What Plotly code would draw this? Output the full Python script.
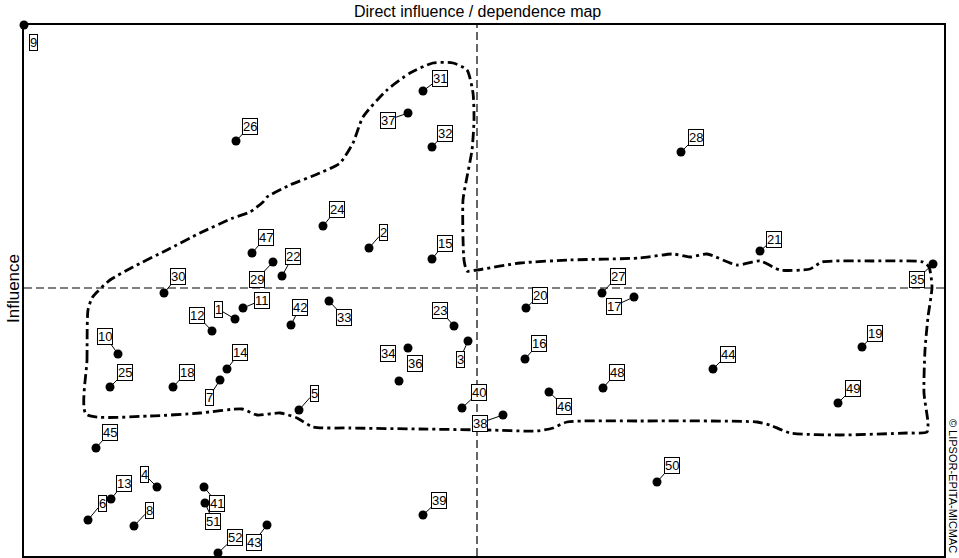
import plotly.graph_objects as go

# ---- data (dependence = x, influence = y) ----
variables = [str(i) for i in range(1, 53)]
dependence = [21.1, 34.5, 44.4, 13.3, 27.5, 6.4, 19.6, 11.0, 0.0, 9.4,
              21.9, 18.8, 8.7, 20.3, 40.8, 50.1, 61.0, 14.9, 83.8, 50.2,
              73.6, 25.8, 43.0, 29.9, 8.6, 21.2, 57.8, 65.7, 24.9, 14.0,
              39.9, 40.8, 30.5, 38.4, 90.9, 37.5, 38.4, 47.9, 39.9, 43.8,
              18.0, 26.7, 24.3, 68.9, 7.2, 52.5, 22.8, 57.9, 81.4, 63.3,
              18.1, 19.4]
influence = [23.7, 30.8, 21.5, 6.9, 14.6, 3.6, 17.6, 3.0, 53.1, 20.2,
             24.8, 22.5, 5.7, 18.7, 29.7, 19.7, 25.9, 16.9, 20.9, 24.8,
             30.5, 28.0, 23.0, 33.0, 16.9, 41.5, 26.3, 40.4, 29.4, 26.3,
             46.5, 40.9, 25.5, 20.8, 29.2, 17.5, 44.3, 14.1, 4.1, 14.8,
             6.9, 23.1, 3.1, 18.7, 10.8, 16.4, 30.3, 16.8, 15.3, 7.4,
             5.3, 0.3]
mean_dependence = 45.3
mean_influence = 26.8

# hand-drawn cluster outline (dependence, influence)
outline_dep = [6.2, 6.3, 6.4, 6.8, 7.3, 8.6, 10.9, 14.3, 17.6, 20.9, 22.6, 23.9, 24.3,
               26.6, 29.6, 31.6, 32.9, 33.9, 36.3, 38.6, 40.9, 42.9, 44.3, 44.9, 45.0,
               44.8, 44.3, 43.9, 44.0, 44.3, 45.3, 49.6, 54.6, 61.6, 64.9, 66.6, 68.3,
               71.3, 73.6, 75.6, 78.6, 79.8, 84.9, 89.9, 90.5, 90.8, 90.4, 90.1, 90.0,
               90.4, 90.3, 88.3, 81.6, 76.6, 74.6, 73.3, 61.6, 54.3, 52.9, 51.3, 46.3,
               39.6, 32.6, 28.9, 27.3, 25.6, 23.3, 21.8, 17.6, 12.6, 6.2]
outline_inf = [14.2, 19.6, 24.6, 25.8, 26.4, 27.6, 28.9, 30.6, 32.3, 33.8, 34.4, 35.4, 35.9,
               37.1, 38.3, 39.3, 41.3, 43.9, 46.6, 48.3, 49.3, 49.3, 48.6, 46.3, 43.6,
               40.6, 37.9, 35.6, 29.6, 28.5, 28.6, 29.3, 29.6, 29.8, 30.2, 29.9, 30.2,
               29.1, 29.5, 28.6, 28.7, 29.4, 29.5, 29.4, 28.9, 26.9, 23.9, 20.6, 16.3,
               13.3, 12.4, 12.3, 12.1, 12.3, 13.1, 13.4, 13.5, 13.4, 12.8, 12.5, 12.6,
               12.7, 12.8, 12.9, 13.8, 14.3, 14.1, 14.7, 14.3, 14.0, 14.2]

# ---- label placement (pixel offsets of the label box from its point) ----
label_offsets = {
    "1": (-17, -10), "2": (14, -16), "3": (-8, 18), "4": (-13, -13), "5": (15, -17),
    "6": (14, -17), "7": (-11, 17), "8": (15, -16), "9": (9, 17), "10": (-13, -18),
    "11": (19, -8), "12": (-15, -16), "13": (13, -16), "14": (13, -17), "15": (13, -16),
    "16": (14, -16), "17": (-20, 9), "18": (14, -15), "19": (13, -14), "20": (14, -13),
    "21": (14, -12), "22": (11, -20), "23": (-14, -16), "24": (14, -17), "25": (15, -15),
    "26": (14, -15), "27": (16, -17), "28": (15, -15), "29": (-16, 17), "30": (14, -17),
    "31": (17, -13), "32": (13, -14), "33": (15, 16), "34": (-20, 5), "35": (-16, 15),
    "36": (16, -18), "37": (-20, 7), "38": (-23, 8), "39": (16, -15), "40": (17, -16),
    "41": (13, 16), "42": (9, -18), "43": (-13, 17), "44": (15, -15), "45": (14, -16),
    "46": (15, 14), "47": (14, -16), "48": (14, -16), "49": (15, -15), "50": (15, -17),
    "51": (8, 18), "52": (17, -16),
}
no_leader = {"9", "34", "36"}

X_RANGE = [0, 92.0]
Y_RANGE = [0, 53.1]

fig = go.Figure()

fig.add_trace(go.Scatter(
    x=outline_dep, y=outline_inf, mode="lines",
    line=dict(color="black", width=2.8, dash="10px,4px,3px,4px", shape="spline", smoothing=0.6),
    hoverinfo="skip", showlegend=False,
))

fig.add_trace(go.Scatter(
    x=dependence, y=influence, mode="markers",
    marker=dict(color="black", size=9),
    text=variables, hoverinfo="text", showlegend=False, cliponaxis=False,
))

label_font = dict(family="Liberation Sans Narrow, Arial Narrow, Liberation Sans, Arial", size=13, color="black")
for name, xv, yv in zip(variables, dependence, influence):
    dx, dy = label_offsets[name]
    if name in no_leader:
        fig.add_annotation(x=xv, y=yv, text=name, showarrow=False, xshift=dx, yshift=-dy,
                           font=label_font, bgcolor="white", bordercolor="black",
                           borderwidth=1, borderpad=0)
    else:
        fig.add_annotation(x=xv, y=yv, text=name, showarrow=True, ax=dx, ay=dy,
                           arrowhead=0, arrowwidth=1, arrowcolor="black", standoff=2,
                           font=label_font, bgcolor="white", bordercolor="black",
                           borderwidth=1, borderpad=0)

# mean lines
fig.add_shape(type="line", x0=X_RANGE[0], x1=X_RANGE[1], y0=mean_influence, y1=mean_influence,
              line=dict(color="black", width=1.2, dash="8px,4px"), layer="below")
fig.add_shape(type="line", x0=mean_dependence, x1=mean_dependence, y0=Y_RANGE[0], y1=Y_RANGE[1],
              line=dict(color="black", width=1.2, dash="8px,4px"), layer="below")

fig.add_annotation(xref="paper", yref="paper", x=0.4924, y=1.0245, text="Direct influence / dependence map",
                   showarrow=False, xanchor="center", yanchor="middle",
                   font=dict(family="Liberation Sans, Arial", size=16, color="black"))
fig.add_annotation(xref="paper", yref="paper", x=-0.012, y=0.5047, text="Influence",
                   showarrow=False, xanchor="center", yanchor="middle", textangle=-90,
                   font=dict(family="Liberation Sans, Arial", size=17, color="black"))
fig.add_annotation(xref="paper", yref="paper", x=1.0098, y=0.132, text="© LIPSOR-EPITA-MICMAC",
                   showarrow=False, xanchor="center", yanchor="middle", textangle=90,
                   font=dict(family="Liberation Sans Narrow, Arial Narrow, Liberation Sans, Arial", size=11, color="black"))

axis_common = dict(showgrid=False, zeroline=False, showticklabels=False, ticks="",
                   showline=True, mirror=True, linecolor="black", linewidth=1.5)
fig.update_xaxes(range=X_RANGE, **axis_common)
fig.update_yaxes(range=Y_RANGE, **axis_common)

fig.update_layout(
    width=959, height=558,
    margin=dict(l=24, r=15, t=25, b=2),
    paper_bgcolor="white", plot_bgcolor="white",
    showlegend=False,
)

# remove the default page margin so the figure fills the window exactly
fig.write_html("out.html", config={"displayModeBar": False},
               post_script="document.body.style.margin='0';document.body.style.padding='0';")
